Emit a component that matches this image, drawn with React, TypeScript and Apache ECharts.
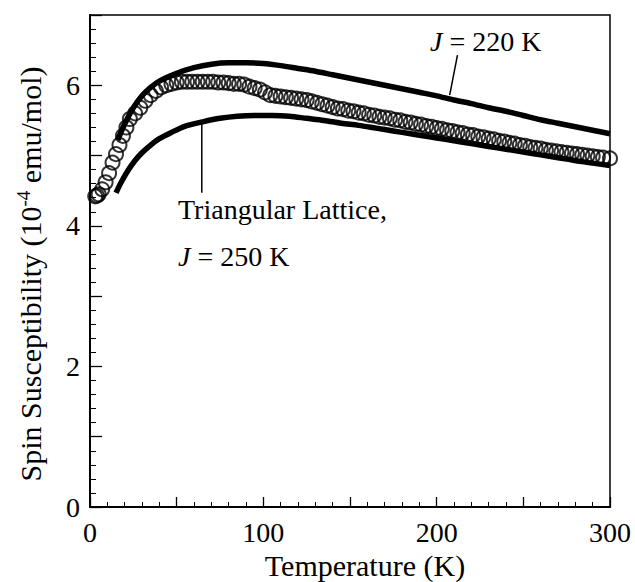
import React, { useEffect, useRef } from "react";
import * as echarts from "echarts";

const FONT = "'Liberation Serif', 'Times New Roman', serif";

const measured: [number, number][] = [
  [3, 4.42], [4, 4.43], [5, 4.45], [7, 4.52], [9, 4.62], [11, 4.75], [13, 4.9], [15, 5.02],
  [17, 5.15], [19, 5.28], [21, 5.4], [23, 5.52], [26, 5.6], [29, 5.68], [32, 5.78], [35, 5.86],
  [38, 5.92], [41, 5.97], [44, 6.0], [47, 6.02], [50, 6.04], [53, 6.05], [56, 6.05], [59, 6.05],
  [62, 6.05], [65, 6.05], [68, 6.05], [71, 6.05], [74, 6.04], [77, 6.04], [80, 6.03], [83, 6.02],
  [86, 6.02], [89, 6.01], [92, 5.98], [95, 5.96], [98, 5.94], [101, 5.9], [104, 5.86], [107, 5.85],
  [110, 5.84], [113, 5.83], [116, 5.82], [119, 5.81], [122, 5.8], [125, 5.79], [128, 5.77], [131, 5.75],
  [134, 5.73], [137, 5.71], [140, 5.69], [143, 5.67], [146, 5.66], [149, 5.64], [152, 5.63], [155, 5.61],
  [158, 5.6], [161, 5.58], [164, 5.57], [167, 5.55], [170, 5.54], [173, 5.53], [176, 5.51], [179, 5.5],
  [182, 5.48], [185, 5.47], [188, 5.45], [191, 5.44], [194, 5.42], [197, 5.41], [200, 5.39], [203, 5.38],
  [206, 5.36], [209, 5.35], [212, 5.33], [215, 5.32], [218, 5.3], [221, 5.29], [224, 5.27], [227, 5.26],
  [230, 5.24], [233, 5.23], [236, 5.21], [239, 5.2], [242, 5.18], [245, 5.17], [248, 5.15], [251, 5.14],
  [254, 5.12], [257, 5.11], [260, 5.1], [263, 5.08], [266, 5.07], [269, 5.06], [272, 5.05], [275, 5.04],
  [278, 5.03], [281, 5.02], [284, 5.01], [287, 5.0], [290, 4.99], [293, 4.98], [296, 4.97], [300, 4.96],
];

const fitJ220: [number, number][] = [
  [16, 5.22], [20, 5.45], [25, 5.68], [30, 5.85], [35, 5.97], [40, 6.06], [50, 6.17], [60, 6.25],
  [70, 6.3], [80, 6.32], [90, 6.32], [100, 6.31], [110, 6.28], [120, 6.24], [130, 6.2], [140, 6.15],
  [150, 6.1], [160, 6.05], [170, 6.0], [180, 5.95], [190, 5.9], [200, 5.85], [210, 5.79], [220, 5.74],
  [230, 5.68], [240, 5.63], [250, 5.57], [260, 5.51], [270, 5.46], [280, 5.41], [290, 5.36], [300, 5.31],
];

const fitJ250: [number, number][] = [
  [15, 4.47], [18, 4.62], [22, 4.79], [26, 4.93], [30, 5.04], [35, 5.15], [40, 5.24], [47, 5.33],
  [55, 5.42], [65, 5.48], [75, 5.53], [85, 5.56], [95, 5.57], [105, 5.57], [115, 5.56], [125, 5.53],
  [135, 5.5], [145, 5.46], [155, 5.43], [165, 5.39], [175, 5.35], [185, 5.31], [195, 5.27], [205, 5.23],
  [215, 5.19], [225, 5.15], [235, 5.11], [245, 5.07], [255, 5.03], [265, 4.99], [275, 4.95], [285, 4.91],
  [300, 4.86],
];

const xTickLabels = [0, 100, 200, 300];
const yTickLabels = [0, 2, 4, 6];

// leader lines in data coordinates [T, chi]
const leader220: [number, number][] = [[212, 6.43], [207.5, 5.86]];
const leader250: [number, number][] = [[64.5, 5.46], [64.5, 4.47]];

export default function App() {
  const ref = useRef<HTMLDivElement>(null);
  useEffect(() => {
    if (!ref.current) return;
    const chart = echarts.init(ref.current, undefined, { renderer: "svg" });
    const lineSeries = (name: string, data: [number, number][]) => ({
      name,
      type: "line",
      data,
      showSymbol: false,
      symbol: "none",
      smooth: 0.3,
      lineStyle: { color: "#000", width: 5.5 },
      z: 3,
    });
    const leader = (data: [number, number][]) => ({
      type: "line",
      data,
      showSymbol: false,
      symbol: "none",
      lineStyle: { color: "#000", width: 1.5 },
      z: 4,
    });
    const italicRich = { i: { fontFamily: FONT, fontSize: 28, fontStyle: "italic", fill: "#000" } };
    chart.setOption({
      animation: false,
      backgroundColor: "#fff",
      grid: {
        left: 90,
        right: 25,
        top: 15,
        bottom: 75,
        outerBoundsMode: "none",
        containLabel: false,
        show: true,
        borderColor: "#000",
        borderWidth: 1.5,
        backgroundColor: "transparent",
      },
      xAxis: {
        type: "value",
        min: 0,
        max: 300,
        interval: 50,
        axisLine: { show: true, onZero: false, lineStyle: { color: "#000", width: 2 } },
        axisTick: { show: true, inside: true, length: 10, lineStyle: { color: "#000", width: 1.3 } },
        minorTick: { show: true, splitNumber: 5, length: 5, lineStyle: { color: "#000", width: 1 } },
        splitLine: { show: false },
        axisLabel: {
          fontFamily: FONT,
          fontSize: 28,
          color: "#000",
          margin: 11,
          formatter: (v: number) => (xTickLabels.includes(v) ? String(v) : ""),
        },
      },
      yAxis: {
        type: "value",
        min: 0,
        max: 7,
        interval: 1,
        axisLine: { show: true, onZero: false, lineStyle: { color: "#000", width: 2 } },
        axisTick: { show: true, inside: true, length: 12, lineStyle: { color: "#000", width: 1.3 } },
        minorTick: { show: true, splitNumber: 5, length: 6, lineStyle: { color: "#000", width: 1 } },
        splitLine: { show: false },
        axisLabel: {
          fontFamily: FONT,
          fontSize: 28,
          color: "#000",
          margin: 10,
          formatter: (v: number) => (yTickLabels.includes(v) ? String(v) : ""),
        },
      },
      series: [
        {
          name: "Measured",
          type: "scatter",
          data: measured,
          symbol: "circle",
          symbolSize: 14,
          itemStyle: { color: "transparent", borderColor: "#000", borderWidth: 2 },
          clip: false,
          z: 2,
        },
        lineSeries("J = 220 K", fitJ220),
        lineSeries("Triangular Lattice, J = 250 K", fitJ250),
        leader(leader220),
        leader(leader250),
      ],
      graphic: [
        {
          type: "text",
          x: 30,
          y: 274,
          rotation: Math.PI / 2,
          style: {
            text: "Spin Susceptibility (10{sup|-4} emu/mol)",
            font: `30px ${FONT}`,
            fill: "#000",
            align: "center",
            verticalAlign: "middle",
            rich: {
              sup: { fontFamily: FONT, fontSize: 19, fill: "#000", verticalAlign: "top", padding: [0, 0, 14, 0] },
            },
          },
        },
        {
          type: "text",
          x: 365,
          y: 565,
          style: {
            text: "Temperature (K)",
            font: `30px ${FONT}`,
            fill: "#000",
            align: "center",
            verticalAlign: "middle",
          },
        },
        {
          type: "text",
          left: 430,
          top: 27,
          style: { text: "{i|J} = 220 K", font: `28px ${FONT}`, fill: "#000", rich: italicRich },
        },
        {
          type: "text",
          left: 178,
          top: 195,
          style: { text: "Triangular Lattice,", font: `28px ${FONT}`, fill: "#000" },
        },
        {
          type: "text",
          left: 178,
          top: 242,
          style: { text: "{i|J} = 250 K", font: `28px ${FONT}`, fill: "#000", rich: italicRich },
        },
      ],
    });
    return () => chart.dispose();
  }, []);
  return (
    <div
      ref={ref}
      style={{ position: "fixed", left: 0, top: 0, width: 635, height: 582 }}
    />
  );
}
